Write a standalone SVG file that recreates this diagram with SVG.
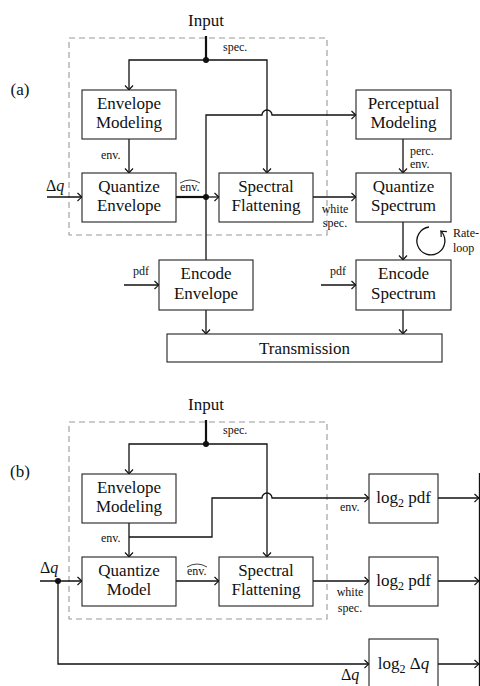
<svg xmlns="http://www.w3.org/2000/svg" width="480" height="686" viewBox="0 0 480 686" font-family="'Liberation Serif', 'DejaVu Serif', serif">
<style>
.box{fill:#fff;stroke:#222;stroke-width:1.1}
.dash{fill:none;stroke:#999;stroke-width:1.1;stroke-dasharray:6,4}
.ln{fill:none;stroke:#111;stroke-width:1.3}
.thk{fill:none;stroke:#111;stroke-width:2.2}
.arr{marker-end:url(#ah)}
.t{font-size:17px;fill:#111;text-anchor:middle}
.s{font-size:12px;fill:#111}
.sm{text-anchor:middle}
.dot{fill:#111}
</style>
<defs>
<marker id="ah" viewBox="-6 -5 7 10" markerWidth="7" markerHeight="10" refX="0" refY="0" orient="auto" markerUnits="userSpaceOnUse">
<path d="M-4.5,-4 Q-1.2,-0.8 0,0 Q-1.2,0.8 -4.5,4" fill="none" stroke="#111" stroke-width="1.2"/>
</marker>
</defs>
<rect width="480" height="686" fill="#fff"/>

<!-- ===== Panel (a) ===== -->
<text class="t" x="20" y="95">(a)</text>
<rect class="dash" x="69" y="38" width="258" height="197"/>

<g id="connectors-a">
<line class="thk" x1="206" y1="36" x2="206" y2="60"/>
<path class="ln arr" d="M206,60 H129 V90"/>
<path class="ln arr" d="M206,60 H267 V173"/>
<circle class="dot" cx="206" cy="60" r="3"/>
<line class="ln arr" x1="129" y1="139" x2="129" y2="173"/>
<line class="ln arr" x1="47" y1="197" x2="82" y2="197"/>
<line class="thk" x1="176" y1="197" x2="206" y2="197"/>
<line class="ln arr" x1="206" y1="197" x2="219" y2="197"/>
<circle class="dot" cx="206" cy="197" r="3"/>
<path class="ln arr" d="M206,260 V115 H262 A5,5 0 0 1 272,115 H356"/>
<line class="ln arr" x1="403" y1="139" x2="403" y2="173"/>
<line class="ln arr" x1="313" y1="197" x2="356" y2="197"/>
<line class="ln arr" x1="403" y1="222" x2="403" y2="260"/>
<path class="ln arr" d="M429,227 A14,14 0 1 0 440.9,231.1"/>
<line class="ln arr" x1="124" y1="285" x2="159" y2="285"/>
<line class="ln arr" x1="321" y1="285" x2="356" y2="285"/>
<line class="ln arr" x1="206" y1="310" x2="206" y2="334"/>
<line class="ln arr" x1="403" y1="310" x2="403" y2="334"/>
</g>

<g id="labels-a">
<text class="t" x="206" y="26">Input</text>
<text class="s" x="223" y="51">spec.</text>
<text class="s" x="101" y="159">env.</text>
<text class="s" x="46" y="191" style="font-size:16px">Δ<tspan font-style="italic">q</tspan></text>
<text class="s" x="180" y="191">env.</text>
<path d="M180,183 Q190,177 200,183" fill="none" stroke="#111" stroke-width="0.8"/>
<text class="s" x="410" y="155">perc.</text>
<text class="s" x="410" y="168">env.</text>
<text class="s sm" x="335" y="213">white</text>
<text class="s sm" x="335" y="227">spec.</text>
<text class="s" x="453" y="237">Rate-</text>
<text class="s" x="453" y="252">loop</text>
<text class="s" x="133" y="275">pdf</text>
<text class="s" x="330" y="275">pdf</text>
</g>

<g id="env-modeling-a"><rect class="box" x="82" y="90" width="94" height="49"/><text class="t" x="129" y="109">Envelope</text><text class="t" x="129" y="128">Modeling</text></g>
<g id="quantize-envelope-a"><rect class="box" x="82" y="173" width="94" height="49"/><text class="t" x="129" y="192">Quantize</text><text class="t" x="129" y="211">Envelope</text></g>
<g id="spectral-flattening-a"><rect class="box" x="219" y="173" width="94" height="49"/><text class="t" x="266" y="192">Spectral</text><text class="t" x="266" y="211">Flattening</text></g>
<g id="perceptual-modeling-a"><rect class="box" x="356" y="90" width="95" height="49"/><text class="t" x="403.5" y="109">Perceptual</text><text class="t" x="403.5" y="128">Modeling</text></g>
<g id="quantize-spectrum-a"><rect class="box" x="356" y="173" width="95" height="49"/><text class="t" x="403.5" y="192">Quantize</text><text class="t" x="403.5" y="211">Spectrum</text></g>
<g id="encode-envelope-a"><rect class="box" x="159" y="260" width="94" height="50"/><text class="t" x="206" y="279">Encode</text><text class="t" x="206" y="299">Envelope</text></g>
<g id="encode-spectrum-a"><rect class="box" x="356" y="260" width="95" height="50"/><text class="t" x="403.5" y="279">Encode</text><text class="t" x="403.5" y="299">Spectrum</text></g>
<g id="transmission-a"><rect class="box" x="167" y="334" width="275" height="28"/><text class="t" x="304.5" y="354">Transmission</text></g>

<!-- ===== Panel (b) ===== -->
<text class="t" x="20" y="477">(b)</text>
<rect class="dash" x="69" y="422" width="258" height="197"/>

<g id="connectors-b">
<line class="thk" x1="206" y1="420" x2="206" y2="444"/>
<path class="ln arr" d="M206,444 H129 V474"/>
<path class="ln arr" d="M206,444 H267 V557"/>
<circle class="dot" cx="206" cy="444" r="3"/>
<line class="ln arr" x1="129" y1="523" x2="129" y2="557"/>
<path class="ln arr" d="M129,537 H212 V498 H262 A5,5 0 0 1 272,498 H369"/>
<line class="ln arr" x1="40" y1="581" x2="82" y2="581"/>
<circle class="dot" cx="58" cy="581" r="3"/>
<path class="ln arr" d="M58,581 V664 H369"/>
<line class="ln arr" x1="176" y1="581" x2="219" y2="581"/>
<line class="ln arr" x1="313" y1="581" x2="369" y2="581"/>
<line class="ln arr" x1="438" y1="498" x2="479" y2="498"/>
<line class="ln arr" x1="438" y1="581" x2="479" y2="581"/>
<line class="ln arr" x1="438" y1="664" x2="479" y2="664"/>
<line class="ln" x1="479.5" y1="473" x2="479.5" y2="686"/>
</g>

<g id="labels-b">
<text class="t" x="206" y="410">Input</text>
<text class="s" x="223" y="434">spec.</text>
<text class="s" x="101" y="542">env.</text>
<text class="s" x="340" y="511">env.</text>
<text class="s" x="40" y="573" style="font-size:16px">Δ<tspan font-style="italic">q</tspan></text>
<text class="s" x="187" y="575">env.</text>
<path d="M187,567 Q197,561 207,567" fill="none" stroke="#111" stroke-width="0.8"/>
<text class="s sm" x="350" y="596">white</text>
<text class="s sm" x="350" y="612">spec.</text>
<text class="s" x="341" y="680" style="font-size:16px">Δ<tspan font-style="italic">q</tspan></text>
</g>

<g id="env-modeling-b"><rect class="box" x="82" y="474" width="94" height="49"/><text class="t" x="129" y="493">Envelope</text><text class="t" x="129" y="512">Modeling</text></g>
<g id="quantize-model-b"><rect class="box" x="82" y="557" width="94" height="49"/><text class="t" x="129" y="576">Quantize</text><text class="t" x="129" y="595">Model</text></g>
<g id="spectral-flattening-b"><rect class="box" x="219" y="557" width="94" height="49"/><text class="t" x="266" y="576">Spectral</text><text class="t" x="266" y="595">Flattening</text></g>
<g id="log2pdf-env-b"><rect class="box" x="369" y="474" width="69" height="49"/><text class="t" x="403.5" y="503">log<tspan font-size="12" dy="4">2</tspan><tspan dy="-4"> pdf</tspan></text></g>
<g id="log2pdf-spec-b"><rect class="box" x="369" y="557" width="69" height="49"/><text class="t" x="403.5" y="586">log<tspan font-size="12" dy="4">2</tspan><tspan dy="-4"> pdf</tspan></text></g>
<g id="log2dq-b"><rect class="box" x="369" y="639" width="69" height="52"/><text class="t" x="403.5" y="669">log<tspan font-size="12" dy="4">2</tspan><tspan dy="-4"> Δ</tspan><tspan font-style="italic">q</tspan></text></g>
</svg>
